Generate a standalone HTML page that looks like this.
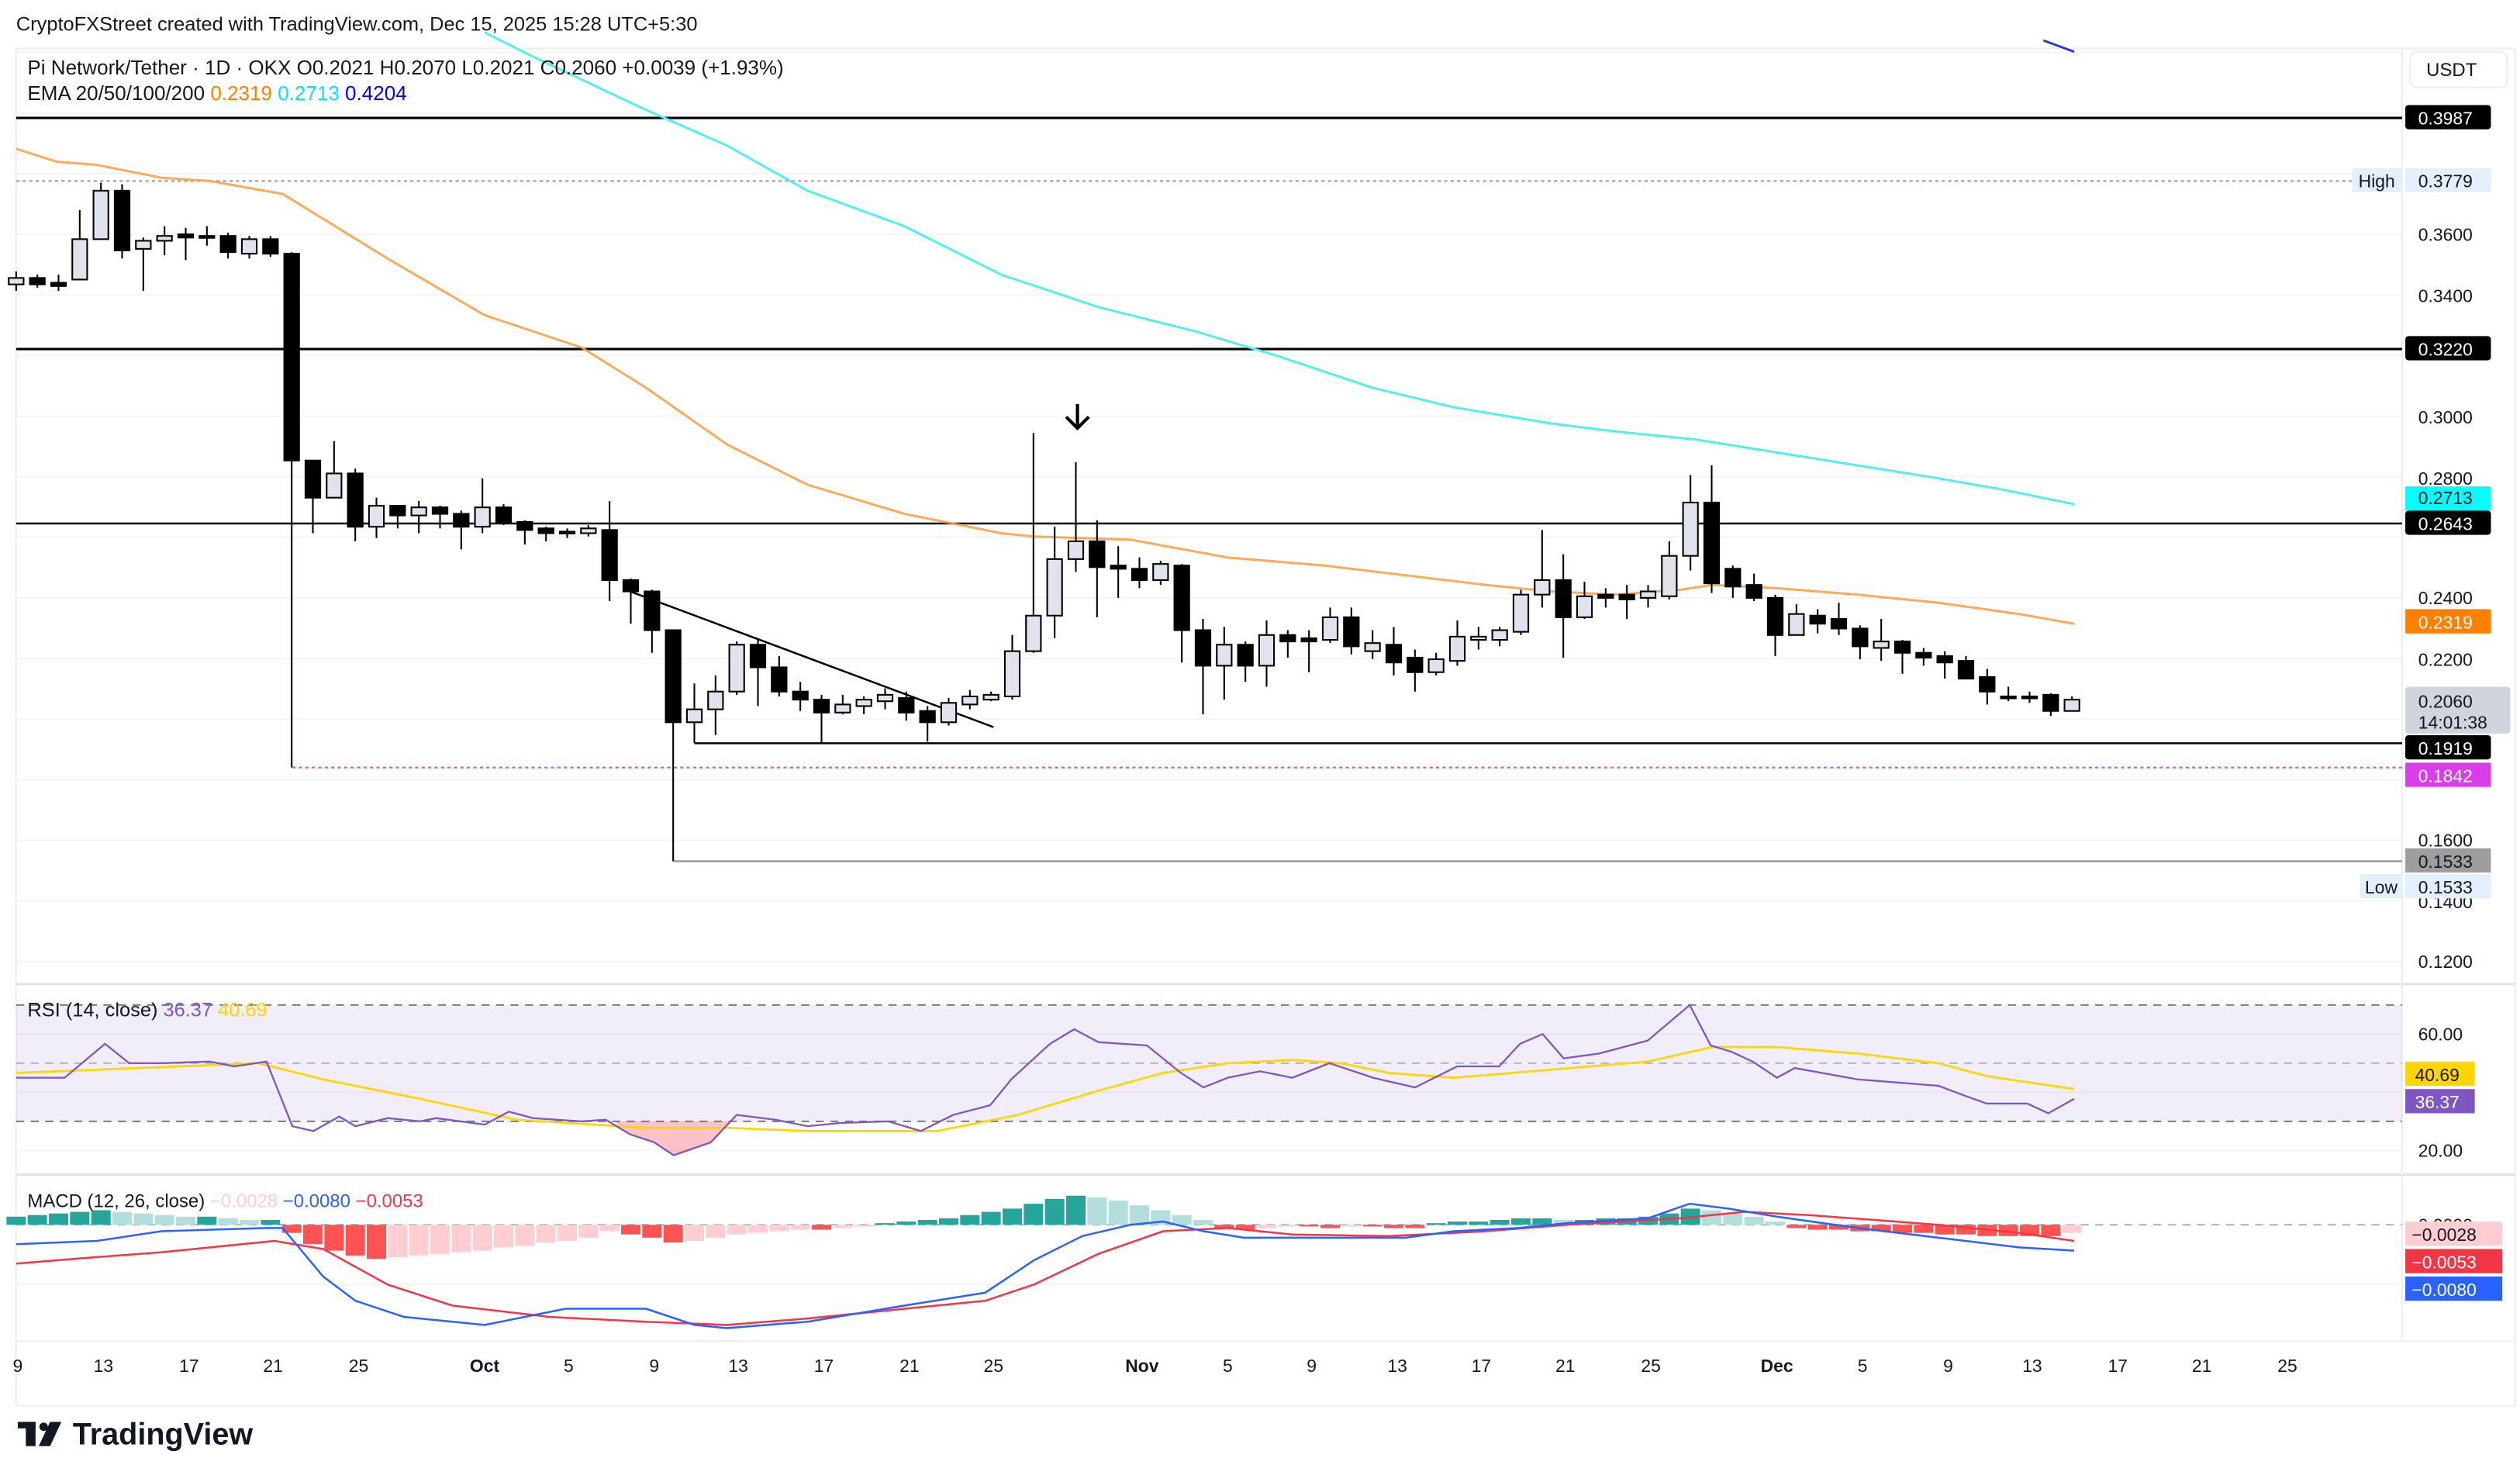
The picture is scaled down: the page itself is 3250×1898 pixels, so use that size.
<!DOCTYPE html>
<html><head><meta charset="utf-8">
<style>
html,body{margin:0;padding:0;background:#fff;}
svg{display:block;font-family:"Liberation Sans",sans-serif;}
</style></head><body>
<svg id="c" width="3250" height="1898" viewBox="0 0 1560 911" xmlns="http://www.w3.org/2000/svg">
<rect width="1560" height="911" fill="#fff"/>
<text x="10" y="19" font-size="12.2" fill="#131722">CryptoFXStreet created with TradingView.com, Dec 15, 2025 15:28 UTC+5:30</text>
<!-- frame -->
<rect x="10" y="30" width="1547" height="840" fill="none" stroke="#eceef2" stroke-width="1"/>
<line x1="10" y1="609" x2="1557" y2="609" stroke="#e0e3eb" stroke-width="1.5"/>
<line x1="10" y1="727" x2="1557" y2="727" stroke="#e0e3eb" stroke-width="1.5"/>
<line x1="1487" y1="30" x2="1487" y2="830" stroke="#eceef2"/>
<line x1="10" y1="830" x2="1557" y2="830" stroke="#eceef2"/>
<g id="grid" stroke="#f3f4f6" stroke-width="1"></g>
<!-- RSI background -->
<rect x="10" y="622" width="1477" height="72" fill="#7e57c2" fill-opacity="0.1"/>
<line x1="10" y1="622" x2="1487" y2="622" stroke="#787b86" stroke-dasharray="5,4"/>
<line x1="10" y1="658" x2="1487" y2="658" stroke="#b2b5be" stroke-dasharray="5,4"/>
<line x1="10" y1="694" x2="1487" y2="694" stroke="#787b86" stroke-dasharray="5,4"/>
<polygon points="380,694 390,702 405,707 417,715 440,707 452,694" fill="#f23645" fill-opacity="0.3"/>
<!-- horizontal levels -->
<line x1="10" y1="73" x2="1487" y2="73" stroke="#000" stroke-width="1.5"/>
<line x1="10" y1="112" x2="1487" y2="112" stroke="#9598a1" stroke-dasharray="2,2"/>
<line x1="10" y1="216" x2="1487" y2="216" stroke="#000" stroke-width="1.5"/>
<line x1="10" y1="324" x2="1487" y2="324" stroke="#000" stroke-width="1.2"/>
<line x1="430" y1="460" x2="1487" y2="460" stroke="#000" stroke-width="1.2"/>
<line x1="181" y1="475" x2="1487" y2="475" stroke="#e040fb" stroke-dasharray="2,2"/>
<line x1="417" y1="533" x2="1487" y2="533" stroke="#9598a1" stroke-width="1.2"/>
<line x1="390" y1="366" x2="615" y2="450" stroke="#000" stroke-width="1.2"/>
<!-- EMAs -->
<polyline fill="none" stroke="#ff9f43" stroke-opacity="0.9" stroke-width="1.4" points="10,92 35,100 60,102 100,110 130,112 175,120 240,160 300,195 360,215 400,240 450,275 500,300 560,318 620,330 640,332 700,334 760,345 820,350 870,356 920,362 960,366 1000,368 1040,365 1060,362 1100,364 1150,368 1200,373 1250,380 1284,386"/>
<polyline fill="none" stroke="#4ff0f0" stroke-width="1.4" points="300,20 330,35 400,68 450,90 500,118 560,140 620,170 680,190 740,205 790,220 850,240 900,252 960,262 1000,267 1050,272 1100,280 1150,288 1200,296 1240,303 1284,312"/>
<polyline fill="none" stroke="#2933d9" stroke-width="1.4" points="1265,25 1284,32"/>
<g id="candles"></g>
<!-- arrow -->
<line x1="667" y1="250" x2="667" y2="265" stroke="#000" stroke-width="2"/>
<polyline points="660,258 667,265 674,258" fill="none" stroke="#000" stroke-width="2"/>
<!-- RSI lines -->
<polyline fill="none" stroke="#ffd600" stroke-width="1.3" points="10,664 160,658 200,668 260,680 320,693 400,698 450,698 500,700 580,700 630,690 680,675 720,664 760,658 800,656 830,658 860,664 900,667 960,662 1020,657 1060,648 1100,648 1150,652 1200,658 1230,666 1284,674"/>
<polyline fill="none" stroke="#7e57c2" stroke-width="1.1" points="10,667 40,667 65,646 80,658 100,658 130,657 145,660 165,657 181,697 194,700 210,691 220,697 240,692 260,694 270,692 300,696 315,688 330,692 360,694 375,693 390,702 405,707 417,715 440,707 456,690 480,693 500,697 520,695 550,694 570,700 590,690 613,684 626,668 650,646 665,637 680,645 710,647 731,664 745,673 760,667 780,663 800,667 823,658 850,667 876,673 902,660 928,660 941,646 955,640 968,655 990,652 1020,644 1046,622 1059,647 1072,651 1085,657 1100,667 1111,661 1150,668 1200,672 1216,678 1230,683 1255,683 1268,689 1284,680"/>
<!-- MACD -->
<line x1="10" y1="758" x2="1487" y2="758" stroke="#b2b5be" stroke-dasharray="5,4"/>
<g id="hist"></g>
<polyline fill="none" stroke="#f23645" stroke-width="1.2" points="10,782 60,778 100,775 170,768 200,773 240,795 280,808 340,815 400,818 450,820 500,816 560,810 610,805 640,795 680,776 720,762 760,760 800,764 860,765 920,762 970,758 1040,754 1080,750 1120,752 1200,758 1250,763 1284,768"/>
<polyline fill="none" stroke="#2962ff" stroke-width="1.2" points="10,770 60,768 100,762 165,760 175,760 200,790 220,805 250,815 300,820 350,810 400,810 430,820 450,822 500,818 560,808 610,800 640,780 670,765 700,758 720,756 745,762 770,766 830,766 870,766 900,762 940,760 970,757 1020,754 1046,745 1070,748 1100,753 1150,760 1200,766 1250,772 1284,774"/>
<!-- legends -->
<text x="17" y="46" font-size="12.5" fill="#131722">Pi Network/Tether · 1D · OKX  O0.2021  H0.2070  L0.2021  C0.2060  +0.0039 (+1.93%)</text>
<text x="17" y="62" font-size="12.5" fill="#131722">EMA 20/50/100/200 <tspan fill="#ff7f00">0.2319</tspan> <tspan fill="#00e5ff">0.2713</tspan> <tspan fill="#0000ff">0.4204</tspan></text>
<text x="17" y="629" font-size="12.2" fill="#131722">RSI (14, close) <tspan fill="#7e57c2">36.37</tspan> <tspan fill="#ffd600">40.69</tspan></text>
<text x="17" y="747" font-size="11.5" fill="#131722">MACD (12, 26, close) <tspan fill="#ffcdd2">−0.0028</tspan> <tspan fill="#2962ff">−0.0080</tspan> <tspan fill="#f23645">−0.0053</tspan></text>
<!-- axis -->
<rect x="1492" y="32" width="60" height="22" rx="4" fill="#fff" stroke="#eceef2"/>
<text x="1502" y="47" font-size="11.5" fill="#131722">USDT</text>
<g font-size="11" fill="#131722">
<text x="1497" y="149">0.3600</text>
<text x="1497" y="187">0.3400</text>
<text x="1497" y="262">0.3000</text>
<text x="1497" y="300">0.2800</text>
<text x="1497" y="374">0.2400</text>
<text x="1497" y="412">0.2200</text>
<text x="1497" y="524">0.1600</text>
<text x="1497" y="562">0.1400</text>
<text x="1497" y="599">0.1200</text>
<text x="1497" y="644">60.00</text>
<text x="1497" y="716">20.00</text>
<text x="1497" y="762">0.0000</text>
</g>
<rect x="1489" y="65" width="53" height="15" rx="2" fill="#000"/><text x="1497" y="77" font-size="11" fill="#fff">0.3987</text>
<rect x="1456" y="104" width="31" height="15" fill="#e3effd"/><text x="1460" y="116" font-size="11" fill="#131722">High</text>
<rect x="1489" y="104" width="53" height="15" fill="#e3effd"/><text x="1497" y="116" font-size="11" fill="#131722">0.3779</text>
<rect x="1489" y="208" width="53" height="15" rx="2" fill="#000"/><text x="1497" y="220" font-size="11" fill="#fff">0.3220</text>
<rect x="1489" y="301" width="53" height="15" fill="#00ffff"/><text x="1497" y="312" font-size="11" fill="#131722">0.2713</text>
<rect x="1489" y="316" width="53" height="15" rx="2" fill="#000"/><text x="1497" y="328" font-size="11" fill="#fff">0.2643</text>
<rect x="1489" y="377" width="53" height="15" fill="#ff7f00"/><text x="1497" y="389" font-size="11" fill="#fff">0.2319</text>
<rect x="1489" y="425" width="65" height="29" rx="2" fill="#d1d4dc"/><text x="1497" y="438" font-size="11" fill="#131722">0.2060</text><text x="1497" y="451" font-size="11" fill="#131722">14:01:38</text>
<rect x="1489" y="455" width="53" height="15" rx="2" fill="#000"/><text x="1497" y="467" font-size="11" fill="#fff">0.1919</text>
<rect x="1489" y="472" width="53" height="15" fill="#d83ee8"/><text x="1497" y="484" font-size="11" fill="#fff">0.1842</text>
<rect x="1489" y="525" width="53" height="15" fill="#9e9e9e"/><text x="1497" y="537" font-size="11" fill="#131722">0.1533</text>
<rect x="1461" y="541" width="26" height="15" fill="#e3effd"/><text x="1464" y="553" font-size="11" fill="#131722">Low</text>
<rect x="1489" y="541" width="53" height="15" fill="#e3effd"/><text x="1497" y="553" font-size="11" fill="#131722">0.1533</text>
<rect x="1489" y="657" width="43" height="15" fill="#ffd600"/><text x="1495" y="669" font-size="11" fill="#131722">40.69</text>
<rect x="1489" y="674" width="43" height="15" fill="#7e57c2"/><text x="1495" y="686" font-size="11" fill="#fff">36.37</text>
<rect x="1489" y="756" width="60" height="15" fill="#ffcdd2"/><text x="1493" y="768" font-size="11" fill="#131722">−0.0028</text>
<rect x="1489" y="773" width="60" height="15" fill="#f23645"/><text x="1493" y="785" font-size="11" fill="#fff">−0.0053</text>
<rect x="1489" y="790" width="60" height="15" fill="#2962ff"/><text x="1493" y="802" font-size="11" fill="#fff">−0.0080</text>
<g font-size="11" fill="#131722" text-anchor="middle">
<text x="11" y="849">9</text><text x="64" y="849">13</text><text x="117" y="849">17</text><text x="169" y="849">21</text><text x="222" y="849">25</text>
<text x="300" y="849" font-weight="bold">Oct</text><text x="352" y="849">5</text><text x="405" y="849">9</text><text x="457" y="849">13</text><text x="510" y="849">17</text><text x="563" y="849">21</text><text x="615" y="849">25</text>
<text x="707" y="849" font-weight="bold">Nov</text><text x="760" y="849">5</text><text x="812" y="849">9</text><text x="865" y="849">13</text><text x="917" y="849">17</text><text x="969" y="849">21</text><text x="1022" y="849">25</text>
<text x="1100" y="849" font-weight="bold">Dec</text><text x="1153" y="849">5</text><text x="1206" y="849">9</text><text x="1258" y="849">13</text><text x="1311" y="849">17</text><text x="1363" y="849">21</text><text x="1416" y="849">25</text>
</g>
<!-- logo -->
<rect x="11" y="880" width="11" height="4" fill="#131722"/><rect x="16" y="880" width="6" height="15" fill="#131722"/>
<circle cx="27" cy="883" r="2.6" fill="#131722"/><polygon points="31,880 38,880 31,895 24,895" fill="#131722"/>
<text x="45" y="894" font-size="19" font-weight="bold" fill="#131722">TradingView</text>
<script>
var NS="http://www.w3.org/2000/svg";
function el(p,t,a){var e=document.createElementNS(NS,t);for(var k in a)e.setAttribute(k,a[k]);p.appendChild(e);return e;}
var g=document.getElementById('grid');
for(var y=32.5;y<600;y+=37.5) el(g,'line',{x1:10,y1:y,x2:1487,y2:y});
[640,676,712,795].forEach(function(y){el(g,'line',{x1:10,y1:y,x2:1487,y2:y});});
var C=[[172,176,168,180,1],[172,176,170,178,0],[175,177,170,180,0],[148,173,130,173,1],[118,148,113,148,1],[118,155,114,160,0],[149,154,147,180,1],[146,149,140,158,1],[145,147,141,161,0],[146,146.5,140,152,0],[146,156,144,160,0],[148,157,146,160,1],[148,157,146,159,0],[157,285,156,475,0],[285,308,285,330,0],[293,308,273,308,1],[293,326,290,335,0],[313,326,308,333,1],[313,319,313,327,0],[314,319,310,330,1],[314,318,313,327,0],[318,326,316,340,0],[314,326,296,330,1],[314,323,312,325,0],[323,328,322,337,0],[327,330,326,335,0],[329,329.5,327,333,0],[327,330,325,332,1],[328,359,310,372,0],[359,366,358,386,0],[366,390,365,404,0],[390,447,390,533,0],[439,447,423,460,1],[428,439,418,455,1],[399,428,397,430,1],[399,413,395,437,0],[413,428,406,431,0],[428,433,422,440,0],[433,441,430,460,0],[436,441,430,442,1],[433,437,431,442,1],[430,434,426,439,1],[432,441,428,446,0],[440,447,437,459,0],[435,447,432,449,1],[431,436,427,439,1],[430,433,428,434,1],[403,431,393,433,1],[381,403,268,404,1],[346,381,326,395,1],[335,346,286,354,1],[335,351,322,382,0],[350,352,338,370,0],[352,359,345,364,0],[349,359,347,362,1],[350,390,349,410,0],[390,412,383,442,0],[399,412,388,433,1],[399,412,397,422,0],[393,412,384,425,1],[393,397,390,407,0],[395,397,390,416,0],[382,396,376,398,1],[382,400,376,405,0],[398,403,390,408,1],[399,410,388,418,0],[407,416,402,428,0],[408,416,404,418,1],[394,409,384,412,1],[394,396,388,402,1],[390,396,388,400,1],[368,391,365,393,1],[359,368,328,376,1],[359,382,343,407,0],[369,382,360,383,1],[368,370,364,376,0],[368,371,362,383,0],[366,370,362,376,1],[344,369,335,371,1],[311,344,294,353,1],[311,361,288,367,0],[352,363,350,370,0],[362,370,355,372,0],[370,393,368,406,0],[380,393,374,393,1],[381,386,377,392,0],[383,389,373,393,0],[389,400,387,408,0],[397,401,383,409,1],[397,404,396,417,0],[404,407,401,412,0],[406,410,403,420,0],[409,420,406,420,0],[419,428,414,436,0],[431,431.5,425,434,0],[431,431.5,428,435,0],[430,440,429,443,0],[433,440,431,440,1]];
var cg=document.getElementById('candles');
C.forEach(function(c,i){var x=10+13.12*i;
 el(cg,'line',{x1:x,y1:c[2],x2:x,y2:c[3],stroke:'#000','stroke-width':1});
 var h=Math.max(c[1]-c[0],1.2);
 el(cg,'rect',{x:x-4.6,y:c[0],width:9.2,height:h,fill:c[4]?'#e0e3eb':'#000',stroke:'#000','stroke-width':1});
});
var H=[5,6,7,8,9,8,7,6,5,5,4,3,3,-5,-12,-16,-19,-21,-20,-19,-18,-17,-16,-14,-13,-11,-10,-8,-4,-6,-8,-11,-10,-8,-6,-5,-4,-3,-3,-2,-1,1,2,3,4,6,8,10,13,16,18,17,15,12,9,6,3,-2,-3,-2,-1,-1,-2,-1,-1,-2,-2,1,2,2,3,4,4,3,3,4,4,5,7,10,9,7,5,2,-2,-3,-3,-4,-4,-5,-5,-6,-6,-7,-7,-7,-7,-5];
var hg=document.getElementById('hist');
H.forEach(function(v,i){var x=10+13.12*i,p=i?H[i-1]:0,col;
 if(v>=0) col=(v>=p)?'#26a69a':'#b2dfdb'; else col=(v<=p)?'#ff5252':'#ffcdd2';
 el(hg,'rect',{x:x-6,y:v>=0?758-v:758,width:12,height:Math.abs(v),fill:col});
});
</script>
</svg>
</body></html>
